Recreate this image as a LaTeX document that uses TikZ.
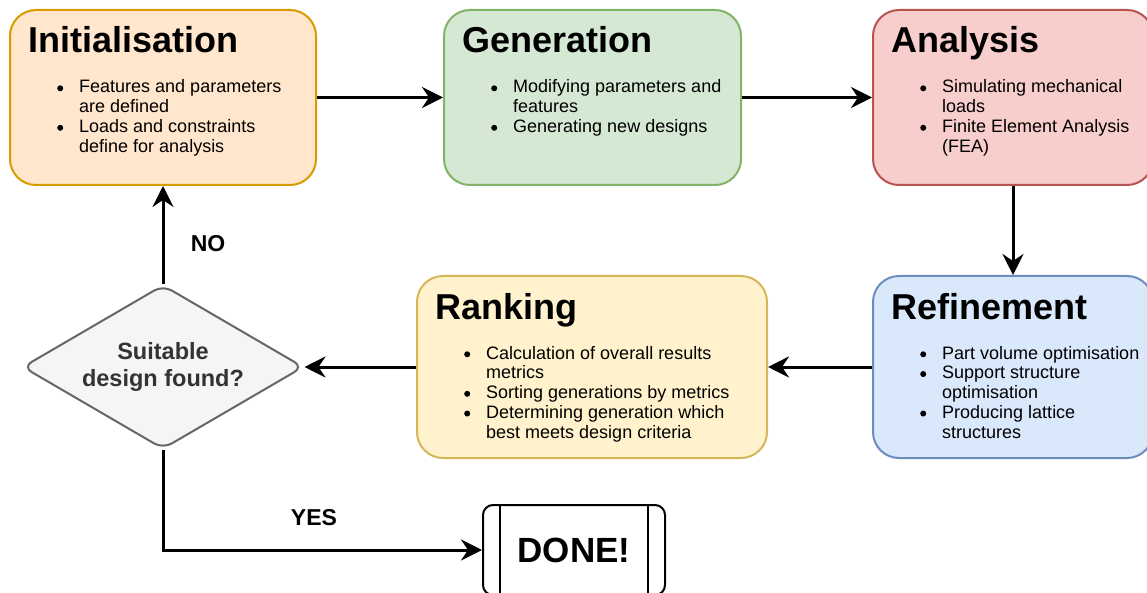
\documentclass[tikz,border=0pt]{standalone}
\usepackage{fontspec}
\setmainfont{Liberation Sans}
\usetikzlibrary{arrows.meta,shapes.geometric}

\definecolor{orfill}{HTML}{FFE6CC}\definecolor{ordraw}{HTML}{D79B00}
\definecolor{grfill}{HTML}{D5E8D4}\definecolor{grdraw}{HTML}{82B366}
\definecolor{rdfill}{HTML}{F8CECC}\definecolor{rddraw}{HTML}{B85450}
\definecolor{blfill}{HTML}{DAE8FC}\definecolor{bldraw}{HTML}{6C8EBF}
\definecolor{ylfill}{HTML}{FFF2CC}\definecolor{yldraw}{HTML}{D6B656}
\definecolor{gyfill}{HTML}{F5F5F5}\definecolor{gydraw}{HTML}{666666}
\definecolor{gytext}{HTML}{333333}

% disc bullet hung in the left margin of a list line
\newcommand\itembul{\llap{\raisebox{1.7pt}{\tikz\fill (0,0) circle (3pt);}\hspace{16pt}}}

\tikzset{
  stage/.style={draw, line width=2pt, rounded corners=26pt, inner sep=0pt},
  ttl/.style={anchor=base west, inner sep=0pt, font=\fontsize{36}{40}\selectfont\bfseries},
  % the base anchor of a multi-line node sits on its last line
  body/.style={anchor=base west, inner sep=0pt, align=left, font=\fontsize{18}{19.75}\selectfont},
  arr/.style={line width=3pt, -{Stealth[length=21pt,width=21pt,inset=7pt]}},
  lbl/.style={inner sep=0pt, font=\fontsize{23}{26}\selectfont\bfseries},
}

\begin{document}
\begin{tikzpicture}[x=1pt,y=-1pt]
  \useasboundingbox (0,0) rectangle (1147,593);
  \clip (0,0) rectangle (1147,593);
  \fill[white] (0,0) rectangle (1147,593);

  % process stages
  \node[stage, fill=orfill, draw=ordraw, minimum width=306pt, minimum height=175pt] (init) at (163,97.5) {};
  \node[stage, fill=grfill, draw=grdraw, minimum width=297pt, minimum height=175pt] (gen) at (592.5,97.5) {};
  \node[stage, fill=rdfill, draw=rddraw, minimum width=280pt, minimum height=175pt] (ana) at (1013,97.5) {};
  \node[stage, fill=blfill, draw=bldraw, minimum width=280pt, minimum height=182pt] (ref) at (1013,367) {};
  \node[stage, fill=ylfill, draw=yldraw, minimum width=350pt, minimum height=182pt] (rank) at (592,367) {};

  % decision and terminal
  \node[diamond, draw=gydraw, fill=gyfill, line width=2pt, rounded corners=10pt, inner sep=0pt,
        minimum width=281pt, minimum height=164pt] (dec) at (163,367) {};
  \node[align=center, text=gytext, inner sep=0pt, font=\fontsize{23.5}{27}\selectfont\bfseries]
        (decT) at (dec.center) {Suitable\\design found?};
  \node[draw, line width=2pt, rounded corners=10pt, fill=white, minimum width=182pt, minimum height=90pt,
        font=\fontsize{35}{40}\selectfont\bfseries] (done) at (574,550) {DONE!};
  \draw[line width=2pt] ([xshift=18pt]done.north west) -- ([xshift=18pt]done.south west);
  \draw[line width=2pt] ([xshift=-18pt]done.north east) -- ([xshift=-18pt]done.south east);

  % titles
  \node[ttl] (initT) at ([shift={(19pt,-44pt)}]init.north west) {Initialisation};
  \node[ttl] (genT)  at ([shift={(19pt,-44pt)}]gen.north west) {Generation};
  \node[ttl] (anaT)  at ([shift={(19pt,-44pt)}]ana.north west) {Analysis};
  \node[ttl] (refT)  at ([shift={(19pt,-44pt)}]ref.north west) {Refinement};
  \node[ttl] (rankT) at ([shift={(19pt,-44pt)}]rank.north west) {Ranking};

  % bullet lists (shift = first baseline 84pt + further lines x 19.75pt)
  \node[body] (initB) at ([shift={(70pt,-143.25pt)}]init.north west)
    {\itembul Features and parameters\\are defined\\\itembul Loads and constraints\\define for analysis};
  \node[body] (genB) at ([shift={(70pt,-123.5pt)}]gen.north west)
    {\itembul Modifying parameters and\\features\\\itembul Generating new designs};
  \node[body] (anaB) at ([shift={(70pt,-143.25pt)}]ana.north west)
    {\itembul Simulating mechanical\\loads\\\itembul Finite Element Analysis\\(FEA)};
  \node[body] (refB) at ([shift={(70pt,-163pt)}]ref.north west)
    {\itembul Part volume optimisation\\\itembul Support structure\\optimisation\\\itembul Producing lattice\\structures};
  \node[body] (rankB) at ([shift={(70pt,-163pt)}]rank.north west)
    {\itembul Calculation of overall results\\metrics\\\itembul Sorting generations by metrics\\\itembul Determining generation which\\best meets design criteria};

  % connectors
  \draw[arr] (init) -- (gen);
  \draw[arr] (gen) -- (ana);
  \draw[arr] (ana) -- (ref);
  \draw[arr] (ref) -- (rank);
  \draw[arr] (rank) -- (dec);
  \draw[arr] (dec) -- (init);
  \draw[arr] (dec.south) |- (done.west);

  % branch labels
  \node[lbl] (no) at (208,244) {NO};
  \node[lbl] (yes) at (314,518) {YES};
\end{tikzpicture}
\end{document}
